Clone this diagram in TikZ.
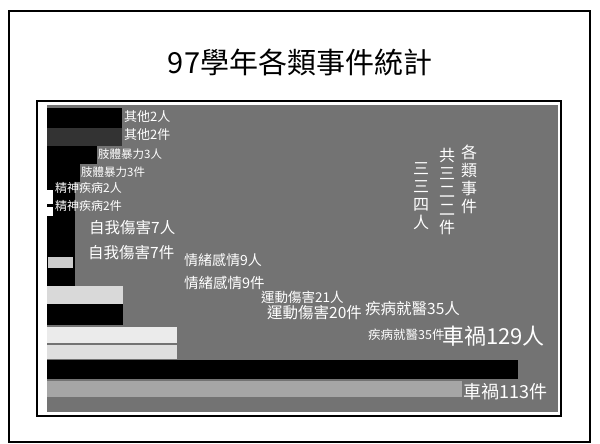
\documentclass[tikz,border=0pt]{standalone}
\usepackage{fontspec}
\newfontfamily\cjk{Noto Sans CJK TC}
\usetikzlibrary{positioning}
\begin{document}
\begin{tikzpicture}[x=1pt,y=-1pt,
  lbl/.style={anchor=west,inner sep=0pt,text=white,font=\cjk\fontsize{#1}{#1}\selectfont},
  vcol/.style={anchor=north,inner sep=0pt,text=white,align=center,font=\cjk\fontsize{16}{18}\selectfont}]
\useasboundingbox (0,0) rectangle (600,444);
\draw[line width=1.2pt] (9,11) rectangle (590,442);
\node[font=\cjk\fontsize{29}{29}\selectfont] (title) at (300,62) {97學年各類事件統計};
\draw[line width=1.5pt] (37,101) rectangle (561,416);
\fill[black!55] (47,105) rectangle (558,412);
\fill[black] (47,108) rectangle (122,128);
\fill[black!80] (47,128) rectangle (122,146);
\fill[black] (47,146) rectangle (97,164);
\fill[black] (47,164) rectangle (80,182);
\fill[black] (47,182) rectangle (75,300);
\fill[white] (47,190) rectangle (53,204);
\fill[white] (47,207) rectangle (53,216);
\fill[white!80!black] (48,257) rectangle (73,268);
\fill[gray!30] (47,286) rectangle (123,304);
\fill[black] (47,304) rectangle (123,325);
\fill[white!92!black] (47,327) rectangle (177,343);
\fill[gray!25] (47,345) rectangle (177,359);
\fill[black] (47,360) rectangle (518,379);
\fill[black!35] (47,381) rectangle (462,397);
\node[lbl=13] (oth1) at (124,117) {其他2人};
\node[lbl=13] (oth2) at (124,135) {其他2件};
\node[lbl=11.5] (vio1) at (98,154) {肢體暴力3人};
\node[lbl=11.5] (vio2) at (81,172) {肢體暴力3件};
\node[lbl=12] (men1) at (55,188) {精神疾病2人};
\node[lbl=12] (men2) at (55,206) {精神疾病2件};
\node[lbl=15.5] (self1) at (89,228) {自我傷害7人};
\node[lbl=15.5] (self2) at (88,253) {自我傷害7件};
\node[lbl=14] (emo1) at (184,260) {情緒感情9人};
\node[lbl=14.5] (emo2) at (184,283) {情緒感情9件};
\node[lbl=13.5] (spt1) at (261,297) {運動傷害21人};
\node[lbl=15.5] (spt2) at (267,313) {運動傷害20件};
\node[lbl=15.5] (ill1) at (365,309) {疾病就醫35人};
\node[lbl=12.5] (ill2) at (368,335) {疾病就醫35件};
\node[lbl=22] (car1) at (442,336) {車禍129人};
\node[lbl=18] (car2) at (463,392) {車禍113件};
\node[vcol] (cat) at (469,145) {各\\類\\事\\件};
\node[vcol] (tot1) at (447,148) {共\\三\\二\\二\\件};
\node[vcol] (tot2) at (421,162) {三\\三\\四\\人};
\end{tikzpicture}
\end{document}
